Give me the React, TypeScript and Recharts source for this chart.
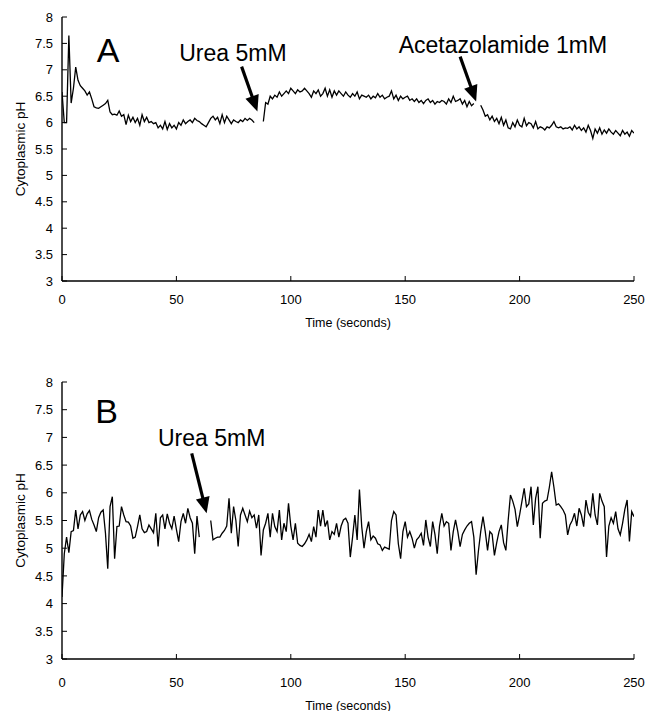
import React from 'react';
import {
  LineChart,
  Line,
  XAxis,
  YAxis,
  ReferenceLine,
  ReferenceDot,
} from 'recharts';

// time in seconds = index in the arrays below (1 s sampling)
const timeTicks = [0, 50, 100, 150, 200, 250];
const phTicks = [3, 3.5, 4, 4.5, 5, 5.5, 6, 6.5, 7, 7.5, 8];

// panel A, cytoplasmic pH (null = gap while adding urea / acetazolamide)
const phA: (number | null)[] = [
  6.58, 6.0, 6.0, 7.65, 6.37, 6.65, 7.05, 6.8, 6.7, 6.65,
  6.6, 6.52, 6.58, 6.45, 6.3, 6.28, 6.27, 6.3, 6.33, 6.36,
  6.42, 6.2, 6.15, 6.16, 6.14, 6.22, 6.12, 6.15, 5.96, 6.14,
  6.02, 6.1, 6.0, 6.08, 5.95, 6.15, 6.02, 6.1, 6.0, 6.02,
  5.98, 6.0, 5.9, 5.95, 5.88, 6.02, 5.87, 5.98, 5.9, 5.95,
  5.88, 6.0, 5.95, 6.05, 5.98, 6.02, 6.05, 6.0, 6.08, 6.04,
  6.02, 5.98, 5.95, 5.92, 6.0, 6.08, 6.12, 6.05, 6.1, 5.98,
  6.15, 6.0, 6.12, 6.05, 5.98, 6.05, 6.02, 6.0, 6.05, 6.02,
  6.08, 6.04, 6.08, 6.05, 6.0, null, null, null, 6.02, 6.38,
  6.35, 6.5, 6.45, 6.52, 6.48, 6.58, 6.5, 6.55, 6.6, 6.55,
  6.65, 6.6, 6.55, 6.62, 6.58, 6.6, 6.65, 6.6, 6.55, 6.48,
  6.6, 6.55, 6.62, 6.5, 6.55, 6.65, 6.5, 6.62, 6.48, 6.6,
  6.52, 6.6, 6.55, 6.5, 6.58, 6.52, 6.48, 6.55, 6.5, 6.58,
  6.45, 6.52, 6.5, 6.48, 6.52, 6.45, 6.5, 6.47, 6.55, 6.48,
  6.52, 6.45, 6.48, 6.5, 6.6, 6.45, 6.52, 6.42, 6.5, 6.45,
  6.48, 6.5, 6.42, 6.45, 6.4, 6.45, 6.38, 6.42, 6.36, 6.42,
  6.45, 6.38, 6.42, 6.35, 6.4, 6.38, 6.42, 6.4, 6.35, 6.45,
  6.38, 6.5, 6.4, 6.42, 6.45, 6.35, 6.42, 6.3, 6.4, 6.32,
  6.36, null, null, 6.33, 6.24, 6.12, 6.15, 6.05, 6.12, 6.02,
  6.08, 5.98, 6.1, 5.95, 6.05, 5.9, 5.88, 6.0, 5.92, 6.05,
  5.95, 5.92, 6.08, 5.94, 6.0, 5.98, 5.9, 6.02, 5.88, 5.92,
  5.9, 5.86, 5.92, 5.9, 5.95, 6.02, 5.92, 5.9, 5.92, 5.88,
  5.9, 5.89, 5.92, 5.86, 5.95, 5.88, 5.92, 5.85, 5.9, 5.82,
  5.95, 5.85, 5.7, 5.88, 5.8, 5.9, 5.78, 5.86, 5.8, 5.88,
  5.82, 5.78, 5.85, 5.8, 5.75, 5.85, 5.78, 5.82, 5.74, 5.85,
  5.8,
];

// panel B, cytoplasmic pH
const phB: (number | null)[] = [
  4.12, 4.9, 5.2, 4.92, 5.3, 5.32, 5.69, 5.35, 5.6, 5.66,
  5.5, 5.62, 5.68, 5.52, 5.42, 5.3, 5.55, 5.65, 5.69, 5.27,
  4.63, 5.75, 5.93, 4.81, 5.39, 5.4, 5.75, 5.6, 5.48, 5.47,
  5.4, 5.18, 5.2, 5.39, 5.6, 5.35, 5.28, 5.3, 5.42, 5.35,
  5.28, 5.63, 5.03, 5.55, 5.6, 5.35, 5.62, 5.45, 5.35, 5.58,
  5.34, 5.12, 5.48, 5.63, 5.45, 5.72, 5.55, 5.45, 4.9, 5.58,
  5.2, null, null, null, null, 5.5, 5.15, 5.18, 5.2, 5.2,
  5.27, 5.32, 5.4, 5.9, 5.27, 5.75, 5.5, 5.03, 5.6, 5.72,
  5.6, 5.48, 5.67, 5.55, 5.6, 5.36, 5.6, 4.87, 5.33, 5.45,
  5.63, 5.2, 5.63, 5.39, 5.3, 5.69, 5.15, 5.45, 5.3, 5.81,
  5.4, 5.15, 5.45, 5.09, 5.05, 5.03, 5.08, 5.15, 5.25, 5.12,
  5.39, 5.2, 5.69, 5.4, 5.69, 5.39, 5.5, 5.15, 5.3, 5.25,
  5.45, 5.2, 5.4, 5.51, 5.54, 5.45, 4.84, 5.2, 5.6, 5.15,
  6.06, 5.39, 5.0, 5.3, 5.48, 5.15, 5.22, 5.18, 5.08, 5.06,
  4.96, 5.02, 5.0, 4.98, 5.5, 5.66, 5.6, 5.08, 4.81, 5.3,
  5.48, 5.2, 5.3, 5.18, 5.0, 5.15, 5.2, 5.27, 5.05, 5.51,
  5.2, 5.03, 5.48, 5.25, 4.9, 5.4, 5.63, 5.4, 5.48, 5.45,
  4.96, 5.3, 5.51, 5.3, 5.03, 5.25, 5.33, 5.4, 5.45, 5.48,
  5.2, 4.52, 4.95, 5.3, 5.57, 5.3, 4.96, 5.3, 5.25, 4.87,
  5.1, 5.3, 5.42, 5.1, 4.96, 5.5, 5.96, 5.85, 5.7, 5.39,
  5.6, 5.84, 6.08, 5.75, 5.8, 6.11, 5.42, 5.9, 6.11, 5.18,
  5.81, 5.85, 5.87, 6.1, 6.38, 6.1, 5.78, 5.8, 5.75, 5.69,
  5.6, 5.24, 5.42, 5.5, 5.63, 5.4, 5.72, 5.6, 5.39, 5.87,
  5.65, 5.57, 5.99, 5.6, 5.42, 5.99, 5.85, 5.75, 4.84, 5.4,
  5.55, 5.45, 5.66, 5.35, 5.24, 5.45, 5.7, 5.87, 5.12, 5.66,
  5.57,
];

const dataA = phA.map((ph, t) => ({ t, ph }));
const dataB = phB.map((ph, t) => ({ t, ph }));

const FONT = '"Liberation Sans", Arial, Helvetica, sans-serif';

function ArrowShape(props: any) {
  const { x1, y1, x2, y2 } = props;
  const dx = x2 - x1;
  const dy = y2 - y1;
  const len = Math.sqrt(dx * dx + dy * dy) || 1;
  const ux = dx / len;
  const uy = dy / len;
  const head = 16;
  const half = 7;
  const bx = x2 - ux * head;
  const by = y2 - uy * head;
  const pts = `${x2},${y2} ${bx - uy * half},${by + ux * half} ${bx + uy * half},${by - ux * half}`;
  return (
    <g>
      <line x1={x1} y1={y1} x2={bx + ux * 2} y2={by + uy * 2} stroke="#000" strokeWidth={3.2} />
      <polygon points={pts} fill="#000" />
    </g>
  );
}

function textShape(value: string, fontSize: number) {
  return (props: any) => (
    <text
      x={props.cx}
      y={props.cy + fontSize * 0.36}
      textAnchor="middle"
      fontSize={fontSize}
      fontFamily={FONT}
      fill="#000"
    >
      {value}
    </text>
  );
}

function yLabel(props: any) {
  const vb = props.viewBox;
  const cx = 20;
  const cy = vb.y + vb.height / 2;
  return (
    <text
      x={cx}
      y={cy}
      transform={`rotate(-90, ${cx}, ${cy})`}
      textAnchor="middle"
      dominantBaseline="central"
      fontSize={13.5}
      fontFamily={FONT}
      fill="#000"
    >
      Cytoplasmic pH
    </text>
  );
}

function xLabel(dy: number) {
  return (props: any) => {
    const vb = props.viewBox;
    return (
      <text
        x={vb.x + vb.width / 2}
        y={vb.y + dy}
        textAnchor="middle"
        fontSize={12.5}
        fontFamily={FONT}
        fill="#000"
      >
        Time (seconds)
      </text>
    );
  };
}

interface Note {
  text: string;
  x: number;
  y: number;
  size: number;
}

interface Arrow {
  from: { x: number; y: number };
  to: { x: number; y: number };
}

function Panel(props: {
  data: { t: number; ph: number | null }[];
  height: number;
  marginTop: number;
  xAxisHeight: number;
  tickMargin: number;
  labelDy: number;
  notes: Note[];
  arrows: Arrow[];
}) {
  const tickStyle = { fill: '#000', fontSize: 13, fontFamily: FONT };
  return (
    <LineChart
      width={647}
      height={props.height}
      data={props.data}
      margin={{ top: props.marginTop, right: 13, bottom: 0, left: 0 }}
    >
      <XAxis
        dataKey="t"
        type="number"
        domain={[0, 250]}
        ticks={timeTicks}
        interval={0}
        height={props.xAxisHeight}
        tickSize={-5}
        tickMargin={props.tickMargin}
        tick={tickStyle}
        axisLine={{ stroke: '#000', strokeWidth: 1.4 }}
        tickLine={{ stroke: '#000' }}
        label={{ content: xLabel(props.labelDy) }}
        allowDataOverflow
      />
      <XAxis
        xAxisId="top"
        orientation="top"
        type="number"
        domain={[0, 250]}
        height={0}
        tick={false}
        tickLine={false}
        axisLine={{ stroke: '#000', strokeWidth: 1.4 }}
      />
      <YAxis
        type="number"
        domain={[3, 8]}
        ticks={phTicks}
        interval={0}
        width={62}
        tickSize={-5}
        tickMargin={14}
        tick={tickStyle}
        axisLine={{ stroke: '#000', strokeWidth: 1.4 }}
        tickLine={{ stroke: '#000' }}
        label={{ content: yLabel }}
        allowDataOverflow
      />
      <YAxis
        yAxisId="right"
        orientation="right"
        type="number"
        domain={[3, 8]}
        ticks={phTicks}
        width={0}
        tick={false}
        tickSize={-4}
        tickLine={{ stroke: '#999' }}
        axisLine={{ stroke: '#000', strokeWidth: 1.4 }}
      />
      <Line
        type="linear"
        dataKey="ph"
        stroke="#000"
        strokeWidth={1.3}
        dot={false}
        activeDot={false}
        connectNulls={false}
        isAnimationActive={false}
      />
      {props.arrows.map((a, i) => (
        <ReferenceLine key={'a' + i} segment={[a.from, a.to]} shape={ArrowShape} />
      ))}
      {props.notes.map((n, i) => (
        <ReferenceDot key={'n' + i} x={n.x} y={n.y} r={0} shape={textShape(n.text, n.size)} />
      ))}
    </LineChart>
  );
}

const notesA: Note[] = [
  { text: 'A', x: 20.1, y: 7.38, size: 34 },
  { text: 'Urea 5mM', x: 74.7, y: 7.32, size: 23 },
  { text: 'Acetazolamide 1mM', x: 192.7, y: 7.48, size: 23 },
];
const arrowsA: Arrow[] = [
  { from: { x: 78.5, y: 7.06 }, to: { x: 85.4, y: 6.21 } },
  { from: { x: 174.0, y: 7.25 }, to: { x: 181.0, y: 6.4 } },
];
const notesB: Note[] = [
  { text: 'B', x: 19.5, y: 7.48, size: 34 },
  { text: 'Urea 5mM', x: 65.4, y: 7.0, size: 23 },
];
const arrowsB: Arrow[] = [{ from: { x: 56.7, y: 6.71 }, to: { x: 63.2, y: 5.63 } }];

export default function App() {
  return (
    <div style={{ position: 'absolute', left: 0, top: 0, width: 647, height: 711, background: '#fff' }}>
      <Panel
        data={dataA}
        height={340}
        marginTop={17}
        xAxisHeight={59}
        tickMargin={18.5}
        labelDy={45.5}
        notes={notesA}
        arrows={arrowsA}
      />
      <Panel
        data={dataB}
        height={371}
        marginTop={42}
        xAxisHeight={52}
        tickMargin={23.5}
        labelDy={50.5}
        notes={notesB}
        arrows={arrowsB}
      />
    </div>
  );
}
